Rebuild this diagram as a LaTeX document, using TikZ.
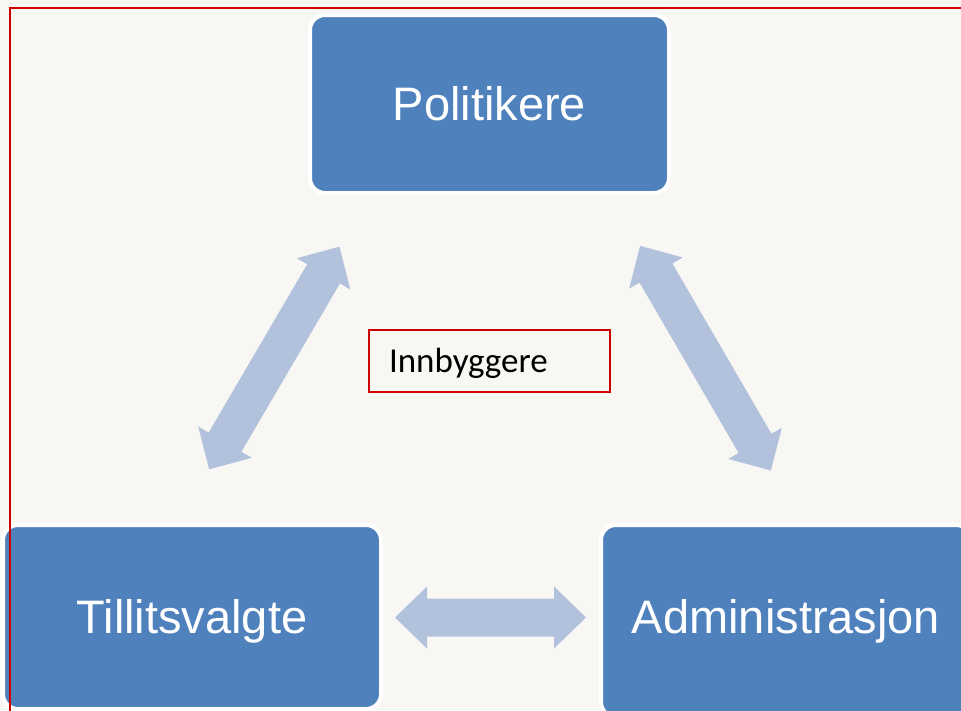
\documentclass[tikz,border=0pt]{standalone}
\usepackage{fontspec}
\setmainfont{Liberation Sans}
\newfontfamily\carlitofont{Carlito}
\definecolor{bgcol}{HTML}{F8F7F3}
\definecolor{boxblue}{HTML}{4F81BD}
\definecolor{arrowfill}{HTML}{B2C2DD}
\definecolor{framered}{HTML}{CC0000}
\newcommand{\blockarrow}[7]{%
  \begin{scope}[shift={(#1,#2)}, rotate=#3]
    \fill[arrowfill] (-#4/2,0) -- (-#4/2+#7,#6) -- (-#4/2+#7,#5) -- (#4/2-#7,#5)
      -- (#4/2-#7,#6) -- (#4/2,0) -- (#4/2-#7,-#6) -- (#4/2-#7,-#5)
      -- (-#4/2+#7,-#5) -- (-#4/2+#7,-#6) -- cycle;
  \end{scope}}
\begin{document}
\begin{tikzpicture}[x=1pt,y=-1pt,
  box/.style={rectangle, rounded corners=15pt, fill=boxblue, draw=white,
    line width=4pt, text=white, inner sep=0pt,
    font=\fontsize{47}{56}\selectfont, text height=33.6pt, text depth=0pt},
  citizen/.style={rectangle, draw=framered, line width=1.5pt, fill=bgcol,
    inner xsep=20pt, inner ysep=0pt, text width=201pt, align=left,
    minimum height=62pt, font=\carlitofont\fontsize{35}{42}\selectfont,
    text height=22.5pt, text depth=0pt}
]
\fill[bgcol] (0,0) rectangle (961,710);
\useasboundingbox (0,0) rectangle (961,710);

% block arrows
\blockarrow{274.3}{358}{59.65}{258}{19}{31}{31.5}
\blockarrow{705.5}{358.2}{-59.8}{260}{19}{31}{31.5}
\blockarrow{490.5}{617.5}{0}{191}{19}{31}{32}

% boxes
\node[box, minimum width=359pt, minimum height=178pt] (pol) at (489.5,104) {Politikere};
\node[box, minimum width=378pt, minimum height=184pt] (till) at (192,617) {Tillitsvalgte};
\node[box, minimum width=370pt, minimum height=192pt] (adm) at (786,621) {\raisebox{4pt}{Administrasjon}};

\node[citizen] (inn) at (489.5,361) {Innbyggere};

% outer frame
\draw[framered, line width=1.7pt] (10,8) rectangle (995,745);
\end{tikzpicture}
\end{document}
